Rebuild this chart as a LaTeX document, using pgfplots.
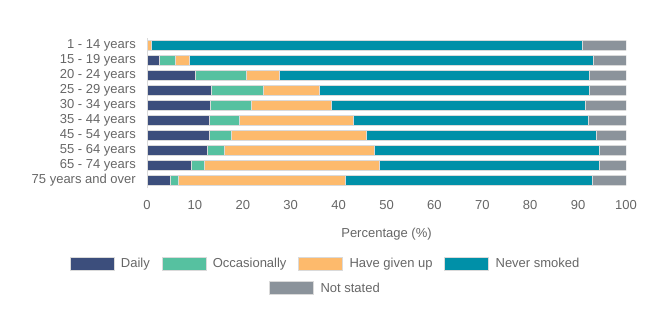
\documentclass[border=0pt]{standalone}
\usepackage{pgfplots}
\pgfplotsset{compat=1.18}
\usepackage{pgfplotstable}
\usepackage{fontspec}
\setmainfont{Liberation Sans}
\definecolor{cDaily}{HTML}{3C4E7C}
\definecolor{cOcc}{HTML}{56C1A0}
\definecolor{cGU}{HTML}{FDBA6C}
\definecolor{cNever}{HTML}{0090A8}
\definecolor{cNS}{HTML}{8B939B}
\definecolor{txt}{HTML}{666666}
\definecolor{bord}{HTML}{DADADA}
% y = 9 is the top row (1 - 14 years)
\pgfplotstableread{
y  D    O    G    N    S
9  0    0    0.8  90.0 9.2
8  2.5  3.5  2.8  84.3 6.9
7  10.1 10.6 6.9  64.7 7.7
6  13.4 10.9 11.6 56.4 7.7
5  13.3 8.5  16.6 53.1 8.5
4  13.0 6.3  23.7 49.2 7.8
3  13.0 4.6  28.1 48.0 6.3
2  12.5 3.6  31.4 46.9 5.6
1  9.2  2.8  36.4 46.0 5.6
0  4.9  1.6  35.0 51.5 7.0
}\datatable
\newcommand{\cf}{\fontsize{13}{15.6}\selectfont}
\pgfplotsset{
  swatch/.style={legend image code/.code={\fill[##1] (0pt,-6.25pt) rectangle (44pt,6.25pt);}},
  legstyle/.style={legend style={anchor=center, draw=none, fill=none, inner sep=0pt, outer sep=0pt,
     /tikz/every odd column/.append style={column sep=6.7pt},
     /tikz/every even column/.append style={column sep=11.7pt},
     nodes={inner sep=0pt, text=txt, font=\cf}}},
}
\begin{document}
\begin{tikzpicture}[x=1pt,y=1pt]
\useasboundingbox (0,0) rectangle (650,-329);
\begin{axis}[
  at={(147pt,-188pt)}, anchor=south west,
  scale only axis, width=479pt, height=150.2pt,
  xbar stacked, bar width=10pt,
  xmin=0, xmax=100, ymin=-0.5, ymax=9.5,
  ytick={0,...,9},
  yticklabels={75 years and over,65 - 74 years,55 - 64 years,45 - 54 years,35 - 44 years,30 - 34 years,25 - 29 years,20 - 24 years,15 - 19 years,1 - 14 years},
  xtick={0,10,...,100},
  major tick length=0pt,
  axis x line*=bottom, axis y line*=left,
  x axis line style={draw=none},
  y axis line style={draw=bord, line width=0.8pt},
  /pgf/number format/assume math mode=true,
  xticklabel style={text=txt, font=\cf, inner sep=0pt, anchor=north, yshift=-12.3pt},
  yticklabel style={text=txt, font=\cf, inner sep=0pt, anchor=east, xshift=-11pt},
  xlabel={Percentage (\%)},
  xlabel style={at={(axis description cs:0.5,-0.308)}, anchor=center, text=txt, font=\cf},
  every axis plot/.append style={draw=bord, line width=0.6pt},
  swatch, legstyle,
  legend style={at={(axis description cs:0.3706,-0.506)}},
  legend columns=4,
]
\addplot[fill=cDaily] table[x=D,y=y]{\datatable};
\addlegendentry{Daily}
\addplot[fill=cOcc] table[x=O,y=y]{\datatable};
\addlegendentry{Occasionally}
\addplot[fill=cGU] table[x=G,y=y]{\datatable};
\addlegendentry{Have given up}
\addplot[fill=cNever] table[x=N,y=y]{\datatable};
\addlegendentry{Never smoked}
\addplot[fill=cNS] table[x=S,y=y]{\datatable};
\end{axis}
\begin{axis}[
  at={(147pt,-188pt)}, anchor=south west,
  scale only axis, width=479pt, height=150.2pt,
  xmin=0, xmax=100, ymin=-0.5, ymax=9.5,
  hide axis, swatch, legstyle,
  legend style={at={(axis description cs:0.3706,-0.666)}},
]
\addlegendimage{fill=cNS, draw=bord, line width=0.6pt}
\addlegendentry{Not stated}
\end{axis}
\end{tikzpicture}
\end{document}
